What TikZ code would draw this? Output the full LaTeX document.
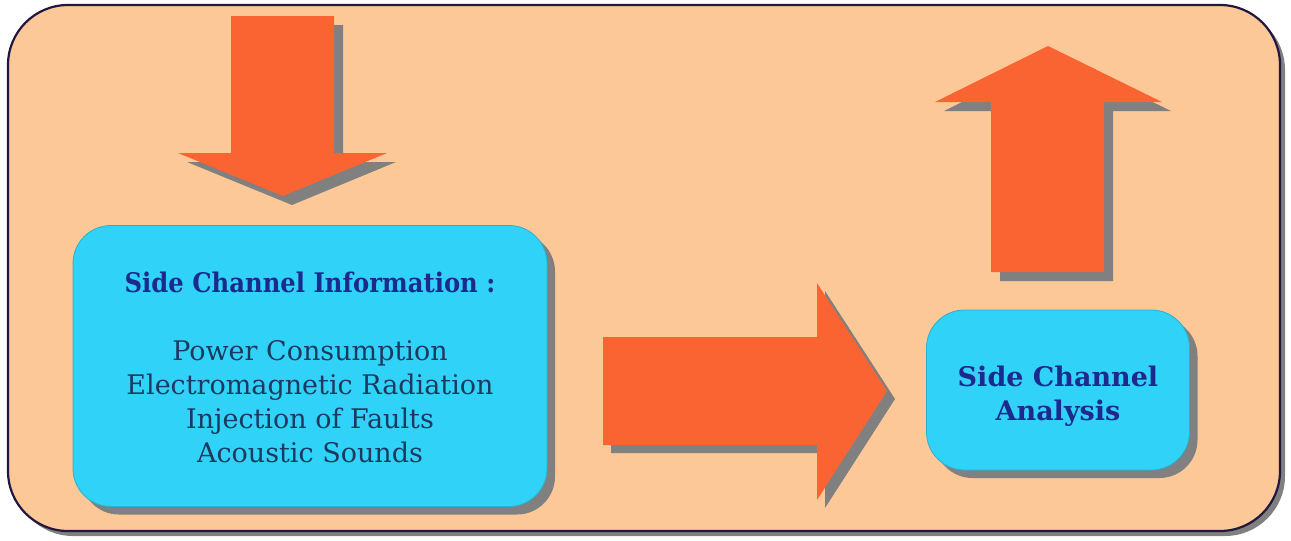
\documentclass[tikz,border=0pt]{standalone}
\usepackage{fontspec}
\usepackage{graphicx}
\setmainfont{DejaVu Serif}
\usetikzlibrary{shadows}
\definecolor{panelfill}{HTML}{FDC898}
\definecolor{panelline}{HTML}{22183F}
\definecolor{shadowgray}{HTML}{808080}
\definecolor{arroworange}{HTML}{FA6432}
\definecolor{boxcyan}{HTML}{30D2F7}
\definecolor{boxline}{HTML}{2BB0D0}
\definecolor{titleblue}{HTML}{1B2A8C}
\definecolor{listblue}{HTML}{1C3A60}
\begin{document}
\begin{tikzpicture}[x=1pt,y=-1pt,
  panel/.style={fill=panelfill,draw=panelline,line width=2.2pt,rounded corners=60pt},
  bigarrow/.style={fill=arroworange},
  arrowshadow/.style={fill=shadowgray},
  infobox/.style={rounded corners=38pt,fill=boxcyan,draw=boxline,line width=0.8pt,
    drop shadow={shadow xshift=8pt,shadow yshift=-8pt,fill=shadowgray,opacity=1},
    align=center,inner sep=0pt},
  titletext/.style={font=\bfseries\fontsize{27}{34}\selectfont,text=titleblue,align=center},
]
\useasboundingbox (0,0) rectangle (1291,541);
\fill[white] (0,0) rectangle (1291,541);

% outer panel with its shadow
\fill[shadowgray,rounded corners=60pt] (13,10) rectangle (1285,536);
\draw[panel] (8,5) rectangle (1280,531);

% incoming arrow (down)
\fill[arrowshadow,shift={(9,9)}] (231,16) -- (334,16) -- (334,153) -- (387,153) -- (283,196) -- (178,153) -- (231,153) -- cycle;
\fill[bigarrow] (231,16) -- (334,16) -- (334,153) -- (387,153) -- (283,196) -- (178,153) -- (231,153) -- cycle;

% outgoing arrow (up)
\fill[arrowshadow,shift={(9,9)}] (1048,46) -- (1162,102) -- (1104,102) -- (1104,272) -- (991,272) -- (991,102) -- (935,102) -- cycle;
\fill[bigarrow] (1048,46) -- (1162,102) -- (1104,102) -- (1104,272) -- (991,272) -- (991,102) -- (935,102) -- cycle;

% connecting arrow (right)
\fill[arrowshadow,shift={(8,8)}] (603,337) -- (817,337) -- (817,283) -- (887,391) -- (817,500) -- (817,445) -- (603,445) -- cycle;
\fill[bigarrow] (603,337) -- (817,337) -- (817,283) -- (887,391) -- (817,500) -- (817,445) -- (603,445) -- cycle;

% information box
\node[infobox,minimum width=474pt,minimum height=281pt] (info) at (310,366) {};
\node[titletext] (infotitle) at (310,282) {\scalebox{0.9}[1]{Side Channel Information :}};
\node[text=listblue,font=\fontsize{27}{34}\selectfont,align=center] (infolist) at (310,402)
  {Power Consumption\\Electromagnetic Radiation\\Injection of Faults\\Acoustic Sounds};

% analysis box
\node[infobox,minimum width=263pt,minimum height=160pt] (analysis) at (1058,390) {};
\node[titletext] (analysistext) at (1058,396) {Side Channel\\Analysis};
\end{tikzpicture}
\end{document}
